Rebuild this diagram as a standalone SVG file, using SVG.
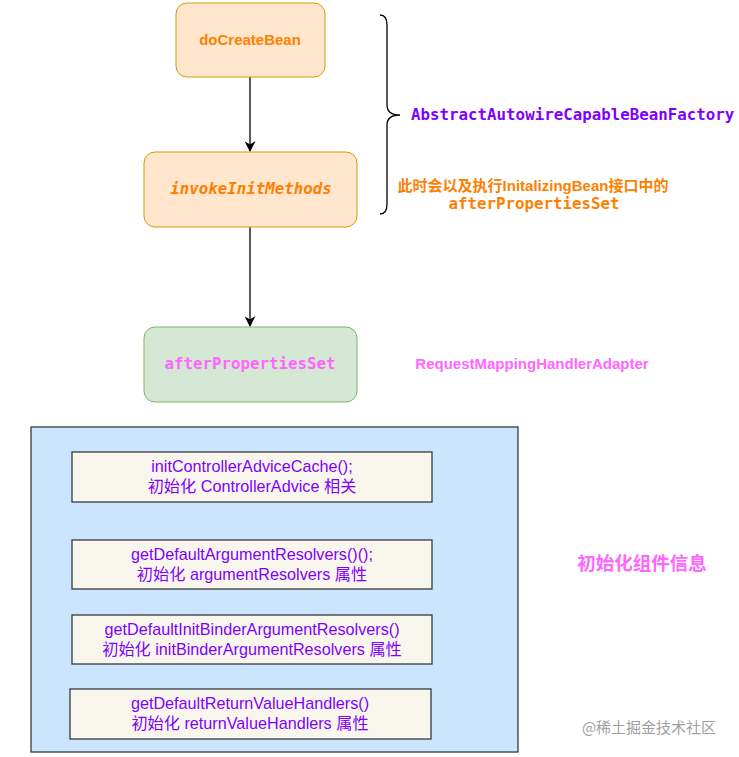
<svg xmlns="http://www.w3.org/2000/svg" width="739" height="757" viewBox="0 0 739 757">
<defs>
<style>
.orange{fill:#ffe6cc;stroke:#d79b00;stroke-width:1}
.green{fill:#d5e8d4;stroke:#82b366;stroke-width:1}
.cont{fill:#cce5ff;stroke:#36393d;stroke-width:1.3}
.item{fill:#f9f7ed;stroke:#36393d;stroke-width:1.3}
.mono{font-family:"DejaVu Sans Mono","Liberation Mono",monospace;font-weight:bold;font-size:15.8px}
.sansb{font-family:"Liberation Sans","Noto Sans CJK SC",sans-serif;font-weight:bold}
.sans{font-family:"Liberation Sans","Noto Sans CJK SC",sans-serif;font-size:16.2px;fill:#7f00ff}
.conn{stroke:#000;stroke-width:1.3;fill:none}
</style>
<marker id="arr" viewBox="0 0 10 10" refX="9" refY="5" markerWidth="11" markerHeight="11" markerUnits="userSpaceOnUse" orient="auto">
<path d="M0,0 L10,5 L0,10 L3,5 z" fill="#000"/>
</marker>
</defs>
<rect width="739" height="757" fill="#fff"/>
<g id="connectors">
<line class="conn" x1="250" y1="77" x2="250" y2="151" marker-end="url(#arr)"/>
<line class="conn" x1="250" y1="227" x2="250" y2="326" marker-end="url(#arr)"/>
</g>
<g id="doCreateBean">
<rect class="orange" x="176" y="3" width="149" height="74" rx="11"/>
<text class="sansb" x="250" y="45" text-anchor="middle" font-size="15" fill="#ff8000">doCreateBean</text>
</g>
<g id="invokeInitMethods">
<rect class="orange" x="144" y="152" width="213" height="75" rx="11"/>
<text class="mono" x="251" y="194" text-anchor="middle" font-style="italic" fill="#ff8000">invokeInitMethods</text>
</g>
<g id="afterPropertiesSet">
<rect class="green" x="144" y="327" width="213" height="75" rx="11"/>
<text class="mono" x="250" y="369" text-anchor="middle" fill="#ff66ff">afterPropertiesSet</text>
</g>
<g id="brace">
<path d="M380,15 Q387,15 387,25 L387,105 Q387,115 400,115 Q387,115 387,125 L387,204 Q387,214 380,214" fill="none" stroke="#000" stroke-width="1.3"/>
</g>
<g id="factory-label">
<text class="mono" x="411" y="120" fill="#7f00ff">AbstractAutowireCapableBeanFactory</text>
</g>
<g id="note-label">
<text class="sansb" x="533" y="191" text-anchor="middle" font-size="15" fill="#ff8000">此时会以及执行InitalizingBean接口中的</text>
<text class="mono" x="534" y="209" text-anchor="middle" fill="#ff8000">afterPropertiesSet</text>
</g>
<g id="adapter-label">
<text class="sansb" x="532" y="369" text-anchor="middle" font-size="15" fill="#ff66ff">RequestMappingHandlerAdapter</text>
</g>
<g id="container">
<rect class="cont" x="31" y="427" width="487" height="325"/>
</g>
<g id="item1">
<rect class="item" x="72" y="452" width="360" height="50"/>
<text class="sans" x="252" y="472" text-anchor="middle">initControllerAdviceCache();</text>
<text class="sans" x="252" y="492" text-anchor="middle">初始化 ControllerAdvice 相关</text>
</g>
<g id="item2">
<rect class="item" x="72" y="540" width="360" height="49"/>
<text class="sans" x="252" y="560" text-anchor="middle">getDefaultArgumentResolvers()();</text>
<text class="sans" x="252" y="580" text-anchor="middle">初始化 argumentResolvers 属性</text>
</g>
<g id="item3">
<rect class="item" x="72" y="615" width="360" height="49"/>
<text class="sans" x="252" y="635" text-anchor="middle">getDefaultInitBinderArgumentResolvers()</text>
<text class="sans" x="252" y="655" text-anchor="middle">初始化 initBinderArgumentResolvers 属性</text>
</g>
<g id="item4">
<rect class="item" x="70" y="689" width="361" height="50"/>
<text class="sans" x="250" y="709" text-anchor="middle">getDefaultReturnValueHandlers()</text>
<text class="sans" x="250" y="729" text-anchor="middle">初始化 returnValueHandlers 属性</text>
</g>
<g id="init-label">
<text class="sansb" x="642" y="570" text-anchor="middle" font-size="18.5" fill="#ff66ff">初始化组件信息</text>
</g>
<g id="watermark">
<text x="649" y="733" text-anchor="middle" font-family="'Noto Sans CJK SC',sans-serif" font-size="15" fill="#a0a0a0">@稀土掘金技术社区</text>
</g>
</svg>
